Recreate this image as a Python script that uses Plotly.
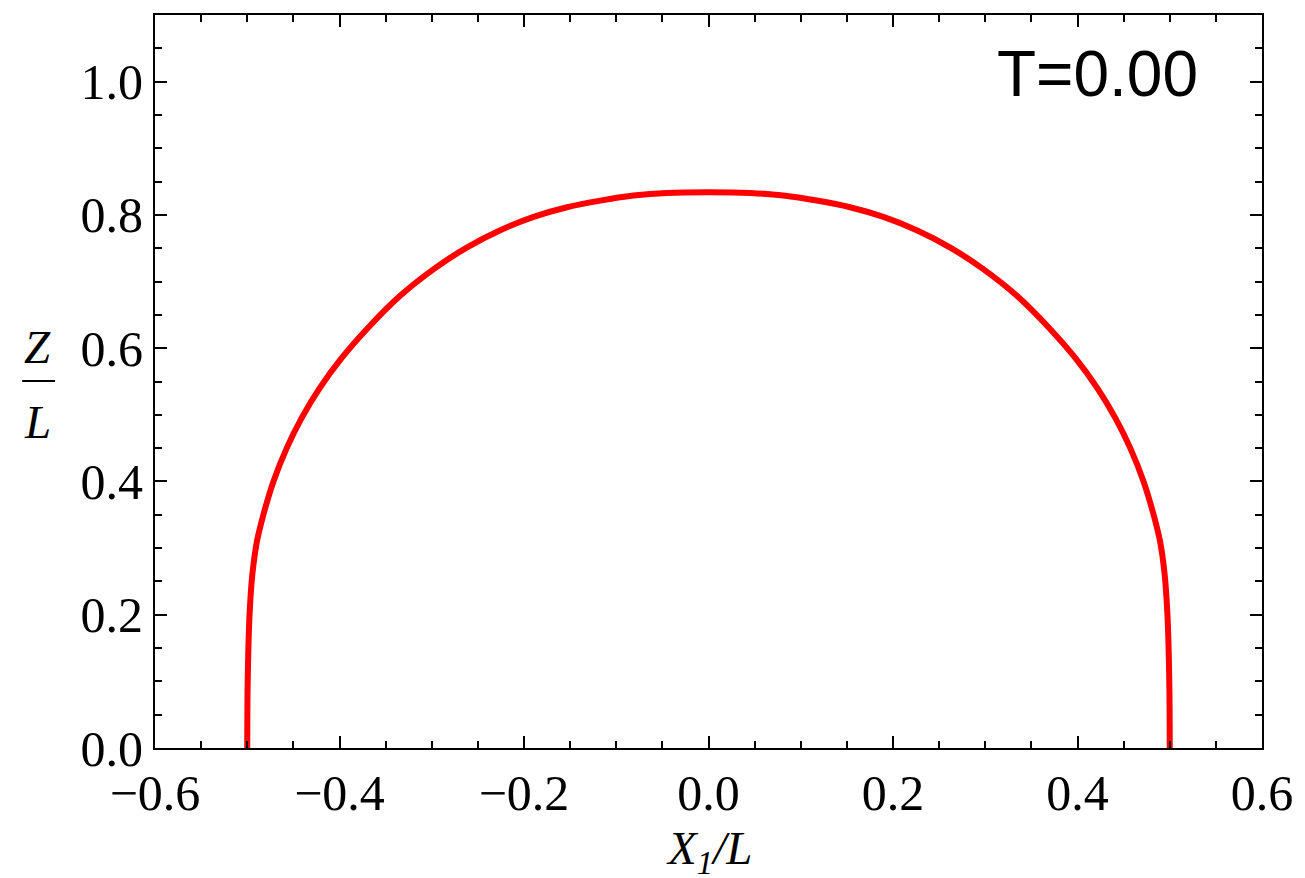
import plotly.graph_objects as go

# Curve (X1/L, Z/L), left foot -> top -> right foot
x_vals = [-0.500, -0.4995, -0.4975, -0.4945, -0.4895, -0.4825, -0.4716, -0.4572,
          -0.4411, -0.4215, -0.3978, -0.3695, -0.3340, -0.2975, -0.2621, -0.2257,
          -0.1896, -0.1534, -0.1173, -0.0812, -0.0450, 0.0,
          0.0450, 0.0812, 0.1173, 0.1534, 0.1896, 0.2257, 0.2621, 0.2975,
          0.3340, 0.3695, 0.3978, 0.4215, 0.4411, 0.4572, 0.4716, 0.4825,
          0.4895, 0.4945, 0.4975, 0.4995, 0.500]
z_vals = [0.000, 0.100, 0.200, 0.260, 0.310, 0.350, 0.400, 0.450,
          0.495, 0.540, 0.585, 0.630, 0.679, 0.719, 0.751, 0.777,
          0.797, 0.8115, 0.8215, 0.829, 0.833, 0.834,
          0.833, 0.829, 0.8215, 0.8115, 0.797, 0.777, 0.751, 0.719,
          0.679, 0.630, 0.585, 0.540, 0.495, 0.450, 0.400, 0.350,
          0.310, 0.260, 0.200, 0.100, 0.000]

x_ticks = [-0.6, -0.4, -0.2, 0.0, 0.2, 0.4, 0.6]
y_ticks = [0.0, 0.2, 0.4, 0.6, 0.8, 1.0]
time_label = "T=0.00"

fig = go.Figure()
fig.add_trace(go.Scatter(
    x=x_vals, y=z_vals, mode="lines",
    line=dict(color="#ff0000", width=6, shape="spline", smoothing=1.0),
    showlegend=False, hoverinfo="skip",
))

tick_font = dict(family="Liberation Serif, Times New Roman, serif", size=50, color="black")

common = dict(
    showline=True, linecolor="black", linewidth=2, mirror="allticks",
    ticks="inside", ticklen=12, tickwidth=2, tickcolor="black",
    showgrid=False, zeroline=False, tickfont=tick_font, tickformat=".1f",
)
fig.update_xaxes(
    range=[-0.6, 0.6], tickvals=x_ticks,
    minor=dict(ticks="inside", dtick=0.05, tick0=0, ticklen=7, tickwidth=1.5,
               tickcolor="black", showgrid=False),
    **common,
)
fig.update_yaxes(
    range=[0, 1.1], tickvals=y_ticks,
    minor=dict(ticks="inside", dtick=0.05, tick0=0, ticklen=7, tickwidth=1.5,
               tickcolor="black", showgrid=False),
    **common,
)

title_font = dict(family="Liberation Serif, Times New Roman, serif", size=47, color="black")

fig.add_annotation(text="<i>X<sub>1</sub>/L</i>", xref="paper", yref="paper",
                   x=0.5, y=-0.141, xanchor="center", yanchor="middle",
                   showarrow=False, font=title_font)
fig.add_annotation(text="<i>Z</i>", xref="paper", yref="paper",
                   x=-0.1057, y=0.547, xanchor="center", yanchor="middle",
                   showarrow=False, font=title_font)
fig.add_annotation(text="<i>L</i>", xref="paper", yref="paper",
                   x=-0.1057, y=0.445, xanchor="center", yanchor="middle",
                   showarrow=False, font=title_font)
fig.add_shape(type="line", xref="paper", yref="paper",
              x0=-0.120, x1=-0.0903, y0=0.5007, y1=0.5007,
              line=dict(color="black", width=2))

fig.add_annotation(text=time_label, xref="paper", yref="paper",
                   x=(1097 - 155) / 1107, y=(748 - 72) / 735,
                   xanchor="center", yanchor="middle", showarrow=False,
                   font=dict(family="Liberation Sans, Arial, sans-serif", size=64, color="black"))

fig.update_layout(
    width=1297, height=870,
    margin=dict(l=147, r=43, t=5, b=130),
    paper_bgcolor="white", plot_bgcolor="white",
)

fig.write_html("out.html")
